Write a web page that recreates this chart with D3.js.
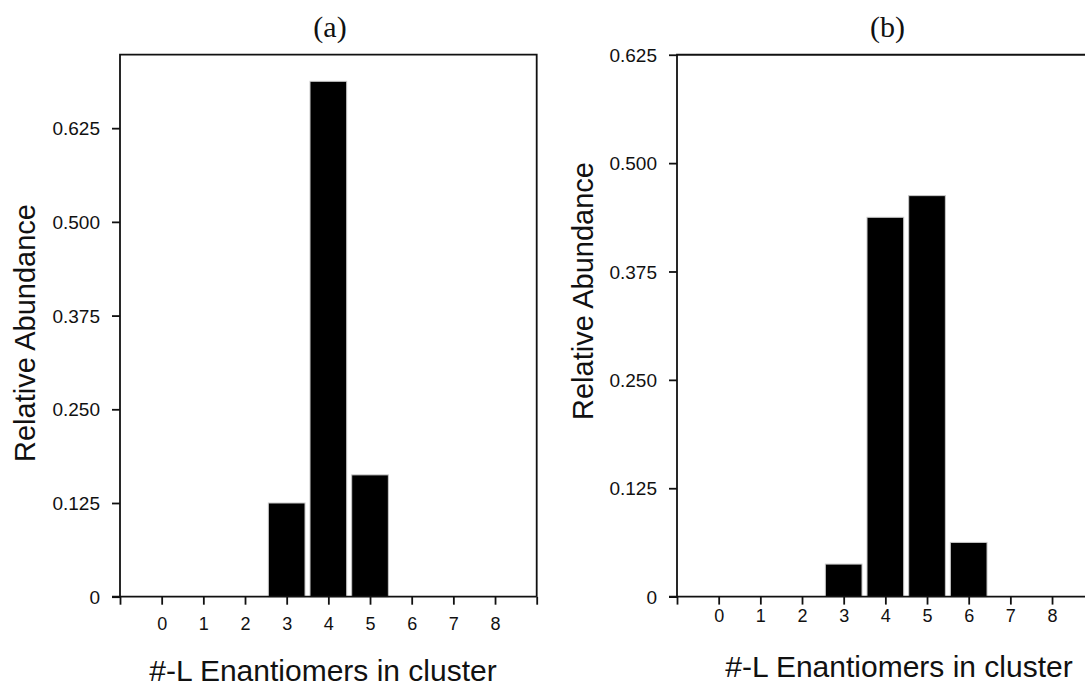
<!DOCTYPE html>
<html>
<head>
<meta charset="utf-8">
<script src="https://cdnjs.cloudflare.com/ajax/libs/d3/7.8.5/d3.min.js"></script>
<style>
  html, body { margin: 0; padding: 0; background: #fff; overflow: hidden; }
  svg { display: block; }
</style>
</head>
<body>
<svg id="chart" width="1085" height="687"></svg>
<script>
// ---- data ----
const categories = [0, 1, 2, 3, 4, 5, 6, 7, 8];
const xTickPositions = [-1, 0, 1, 2, 3, 4, 5, 6, 7, 8, 9];
const abundanceA = [0, 0, 0, 0.125, 0.6875, 0.1625, 0, 0, 0];
const abundanceB = [0, 0, 0, 0.0375, 0.4375, 0.4625, 0.0625, 0, 0];
const yTicks = [0, 0.125, 0.25, 0.375, 0.5, 0.625];
const panelTitles = ["(a)", "(b)"];
const xAxisTitle = "#-L Enantiomers in cluster";
const yAxisTitle = "Relative Abundance";

const svg = d3.select("#chart");
const ink = "#111";

function drawPanel(opt) {
  const g = svg.append("g");
  const x = d3.scaleLinear().domain([-1, 9]).range([opt.left, opt.right]);
  const y = d3.scaleLinear().domain([0, opt.yMax]).range([opt.bottom, opt.top]);
  const barW = (x(1) - x(0)) * 0.88;

  // bars
  const rows = categories.map((c, i) => ({ c, v: opt.values[i] })).filter(d => d.v > 0);
  g.selectAll("rect.bar").data(rows).enter().append("rect")
    .attr("class", "bar")
    .attr("x", d => x(d.c) - barW / 2)
    .attr("width", barW)
    .attr("y", d => y(d.v))
    .attr("height", d => y(0) - y(d.v))
    .attr("fill", "#000")
    .attr("stroke", "#c8c8c8")
    .attr("stroke-width", 1);

  // frame (top, right, left)
  g.append("path")
    .attr("d", `M${opt.left},${opt.bottom} V${opt.top} H${opt.right} V${opt.bottom}`)
    .attr("fill", "none").attr("stroke", ink).attr("stroke-width", 1.8);

  // y axis
  const yAxis = d3.axisLeft(y).tickValues(yTicks).tickSize(8).tickSizeOuter(0)
    .tickPadding(12)
    .tickFormat(d => d === 0 ? "0" : d3.format(".3f")(d));
  const ya = g.append("g").attr("transform", `translate(${opt.left},0)`).call(yAxis);
  ya.select(".domain").remove();
  ya.selectAll(".tick line").attr("stroke", ink).attr("stroke-width", 1.8);
  ya.selectAll(".tick text").attr("fill", ink)
    .style("font-family", "'Liberation Sans', Arial, sans-serif")
    .style("font-size", "19px").attr("dy", "0.35em");

  // x axis
  const xAxis = d3.axisBottom(x).tickValues(xTickPositions).tickSize(8).tickSizeOuter(0)
    .tickPadding(opt.xPad)
    .tickFormat(d => categories.includes(d) ? String(d) : "");
  const xa = g.append("g").attr("transform", `translate(0,${opt.bottom})`).call(xAxis);
  xa.select(".domain").remove();
  xa.selectAll(".tick line").attr("stroke", ink).attr("stroke-width", 1.8);
  xa.selectAll(".tick text").attr("fill", ink)
    .style("font-family", "'Liberation Sans', Arial, sans-serif")
    .style("font-size", "18px");
  // baseline line
  g.append("line")
    .attr("x1", opt.left - 8).attr("x2", opt.right)
    .attr("y1", opt.bottom).attr("y2", opt.bottom)
    .attr("stroke", ink).attr("stroke-width", 1.8);

  // titles
  g.append("text").attr("x", opt.titleX).attr("y", 37)
    .attr("text-anchor", "middle")
    .style("font-family", "'Liberation Serif', 'Times New Roman', serif")
    .style("font-size", "30px").attr("fill", ink)
    .text(opt.title);

  g.append("text").attr("x", opt.xTitleX).attr("y", opt.xTitleY)
    .attr("text-anchor", "middle")
    .style("font-family", "'Liberation Sans', Arial, sans-serif")
    .style("font-size", "30px").attr("fill", ink)
    .text(xAxisTitle);

  g.append("text")
    .attr("transform", `translate(${opt.yTitleX},${opt.yTitleY}) rotate(-90)`)
    .attr("text-anchor", "middle")
    .style("font-family", "'Liberation Sans', Arial, sans-serif")
    .style("font-size", "29px").attr("fill", ink)
    .text(yAxisTitle);
}

drawPanel({
  left: 120, right: 536.7, top: 54.7, bottom: 596.7, yMax: 0.723,
  values: abundanceA, title: panelTitles[0], titleX: 330,
  xPad: 13, xTitleX: 323, xTitleY: 681, yTitleX: 35, yTitleY: 333
});

drawPanel({
  left: 677, right: 1093.7, top: 54.75, bottom: 596.6, yMax: 0.625,
  values: abundanceB, title: panelTitles[1], titleX: 887.5,
  xPad: 5, xTitleX: 899, xTitleY: 677, yTitleX: 593, yTitleY: 291
});
</script>
</body>
</html>
